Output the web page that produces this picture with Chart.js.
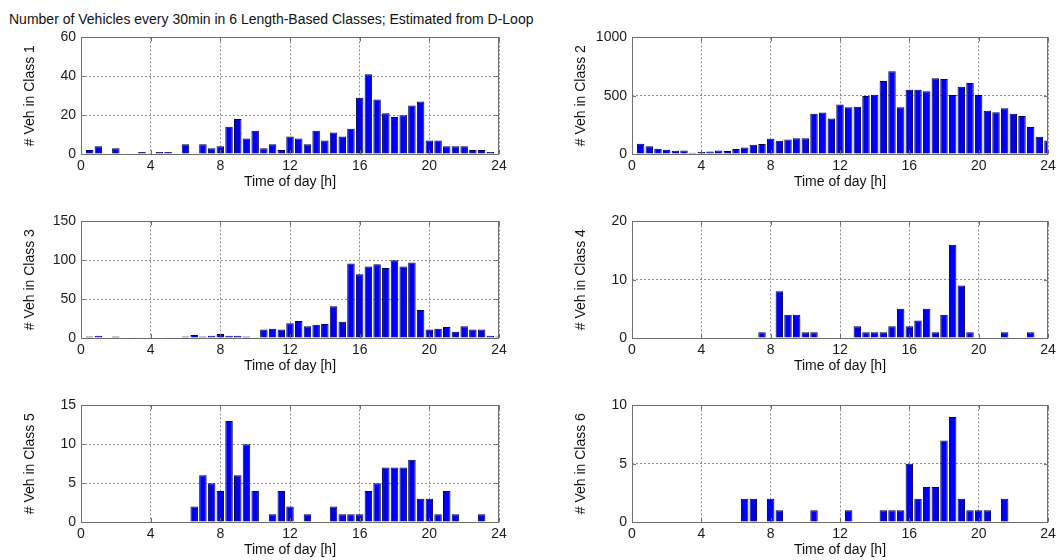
<!DOCTYPE html>
<html>
<head>
<meta charset="utf-8">
<script src="https://cdn.jsdelivr.net/npm/chart.js@4.4.1/dist/chart.umd.min.js"></script>
<style>
  html, body { margin: 0; padding: 0; background: #ffffff; width: 1060px; height: 560px; overflow: hidden; }
  canvas { position: absolute; }
  #title { position: absolute; left: 9px; top: 11px; font: 14px "Liberation Sans", Arial, sans-serif; color: #111; white-space: nowrap; }
</style>
</head>
<body>
<div id="title">Number of Vehicles every 30min in 6 Length-Based Classes; Estimated from D-Loop</div>
<canvas id="c1"></canvas>
<canvas id="c2"></canvas>
<canvas id="c3"></canvas>
<canvas id="c4"></canvas>
<canvas id="c5"></canvas>
<canvas id="c6"></canvas>
<script>
// ---- data ----
const hours = [0.5,1,1.5,2,2.5,3,3.5,4,4.5,5,5.5,6,6.5,7,7.5,8,8.5,9,9.5,10,10.5,11,11.5,12,
               12.5,13,13.5,14,14.5,15,15.5,16,16.5,17,17.5,18,18.5,19,19.5,20,20.5,21,21.5,22,22.5,23,23.5,24];
const class1 = [2,4,0,3,0,0,1,0,1,1, 0,5,0,5,3,4,14,18,8,12, 3,5,2,9,8,5,12,7,11,9, 13,29,41,28,21,19,20,25,27,7, 7,4,4,4,2,2,1,0];
const class2 = [88,66,44,36,28,30,11,19,22,30, 25,42,55,80,86,130,113,125,136,136, 345,356,304,425,400,406,497,508,627,710,
                400,552,550,539,649,644,506,577,608,506, 370,359,392,345,326,232,149,116];
const class3 = [2,3,0,2,0,1,0,0,0,1, 1,2,4,2,3,5,3,3,2,1, 11,12,11,19,22,15,17,18,41,21, 96,82,92,95,90,100,92,97,36,11, 12,14,8,15,11,11,3,2];
const class4 = [0,0,0,0,0,0,0,0,0,0, 0,0,0,0,1,0,8,4,4,1, 1,0,0,0,0,2,1,1,1,2, 5,2,3,5,1,4,16,9,1,0, 0,0,1,0,0,1,0,0];
const class5 = [0,0,0,0,0,0,0,0,0,0, 0,0,2,6,5,4,13,6,10,4, 0,1,4,2,0,1,0,0,2,1, 1,1,4,5,7,7,7,8,3,3, 1,4,1,0,0,1,0,0];
const class6 = [0,0,0,0,0,0,0,0,0,0, 0,0,2,2,0,2,1,0,0,0, 1,0,0,0,1,0,0,0,1,1, 1,5,2,3,3,7,9,2,1,1, 1,0,2,0,0,0,0,0];
const xTicks = [0,4,8,12,16,20,24];
const yMax  = [60, 1000, 150, 20, 15, 10];
const yStep = [20, 500, 50, 10, 5, 5];
const yTitles = ['# Veh in Class 1','# Veh in Class 2','# Veh in Class 3','# Veh in Class 4','# Veh in Class 5','# Veh in Class 6'];
const xTitle = 'Time of day [h]';
const series = [class1, class2, class3, class4, class5, class6];

// ---- layout ----
const FONT = '"Liberation Sans", Arial, sans-serif';
const plotLefts = [81, 632];
const plotWidths = [418, 416];
const plotTops = [34, 218, 402];
const PH = 120, LEFT = 80, TOPPAD = 10, RIGHTPAD = 12, BOTTOM = 38;

const boxPlugin = {
  id: 'matlabBox',
  afterDatasetsDraw(chart) {
    const {ctx, chartArea: a, scales: {x, y}} = chart;
    ctx.save();
    ctx.strokeStyle = '#6e6e6e';
    ctx.lineWidth = 1;
    ctx.beginPath();
    x.ticks.forEach(t => {
      const px = Math.round(x.getPixelForValue(t.value)) + 0.5;
      ctx.moveTo(px, a.bottom); ctx.lineTo(px, a.bottom - 4);
      ctx.moveTo(px, a.top); ctx.lineTo(px, a.top + 4);
    });
    y.ticks.forEach(t => {
      const py = Math.round(y.getPixelForValue(t.value)) + 0.5;
      ctx.moveTo(a.left, py); ctx.lineTo(a.left + 4, py);
      ctx.moveTo(a.right, py); ctx.lineTo(a.right - 4, py);
    });
    ctx.stroke();
    ctx.strokeRect(Math.round(a.left) + 0.5, Math.round(a.top) + 0.5, Math.round(a.width) - 1, Math.round(a.height));
    ctx.restore();
  }
};

series.forEach((vals, i) => {
  const col = i % 2, row = Math.floor(i / 2);
  const cv = document.getElementById('c' + (i + 1));
  const w = plotWidths[col] + LEFT + RIGHTPAD;
  const h = PH + TOPPAD + BOTTOM;
  cv.width = w; cv.height = h;
  cv.style.left = (plotLefts[col] - LEFT) + 'px';
  cv.style.top = (plotTops[row] - TOPPAD) + 'px';
  cv.style.width = w + 'px'; cv.style.height = h + 'px';

  new Chart(cv, {
    type: 'bar',
    data: {
      datasets: [{
        data: hours.map((hh, k) => ({x: hh, y: vals[k]})),
        backgroundColor: '#0000f5',
        borderColor: '#000048',
        borderWidth: 1,
        barPercentage: 0.86,
        categoryPercentage: 1.0
      }]
    },
    options: {
      responsive: false,
      devicePixelRatio: 1,
      animation: false,
      events: [],
      layout: { padding: { top: TOPPAD, right: RIGHTPAD, left: 0, bottom: 0 } },
      plugins: { legend: { display: false }, tooltip: { enabled: false }, title: { display: false } },
      scales: {
        x: {
          type: 'linear', min: 0, max: 24, offset: false,
          afterBuildTicks: s => { s.ticks = xTicks.map(v => ({value: v})); },
          afterFit: s => { s.height = BOTTOM; },
          ticks: { font: { family: FONT, size: 14 }, color: '#1a1a1a', padding: 4, maxRotation: 0, autoSkip: false,
                   callback: v => String(v) },
          grid: { color: '#8c8c8c', lineWidth: 1, drawTicks: false, offset: false },
          border: { display: false, dash: [2, 2] },
          title: { display: true, text: xTitle, font: { family: FONT, size: 14 }, color: '#111', padding: { top: 0, bottom: 1 } }
        },
        y: {
          min: 0, max: yMax[i],
          ticks: { stepSize: yStep[i], font: { family: FONT, size: 14 }, color: '#1a1a1a', padding: 5,
                   callback: v => String(v) },
          afterFit: s => { s.width = LEFT; },
          grid: { color: '#8c8c8c', lineWidth: 1, drawTicks: false },
          border: { display: false, dash: [2, 2] },
          title: { display: true, text: yTitles[i], font: { family: FONT, size: 14 }, color: '#111', padding: { top: 21, bottom: 0 } }
        }
      }
    },
    plugins: [boxPlugin]
  });
});
</script>
</body>
</html>
